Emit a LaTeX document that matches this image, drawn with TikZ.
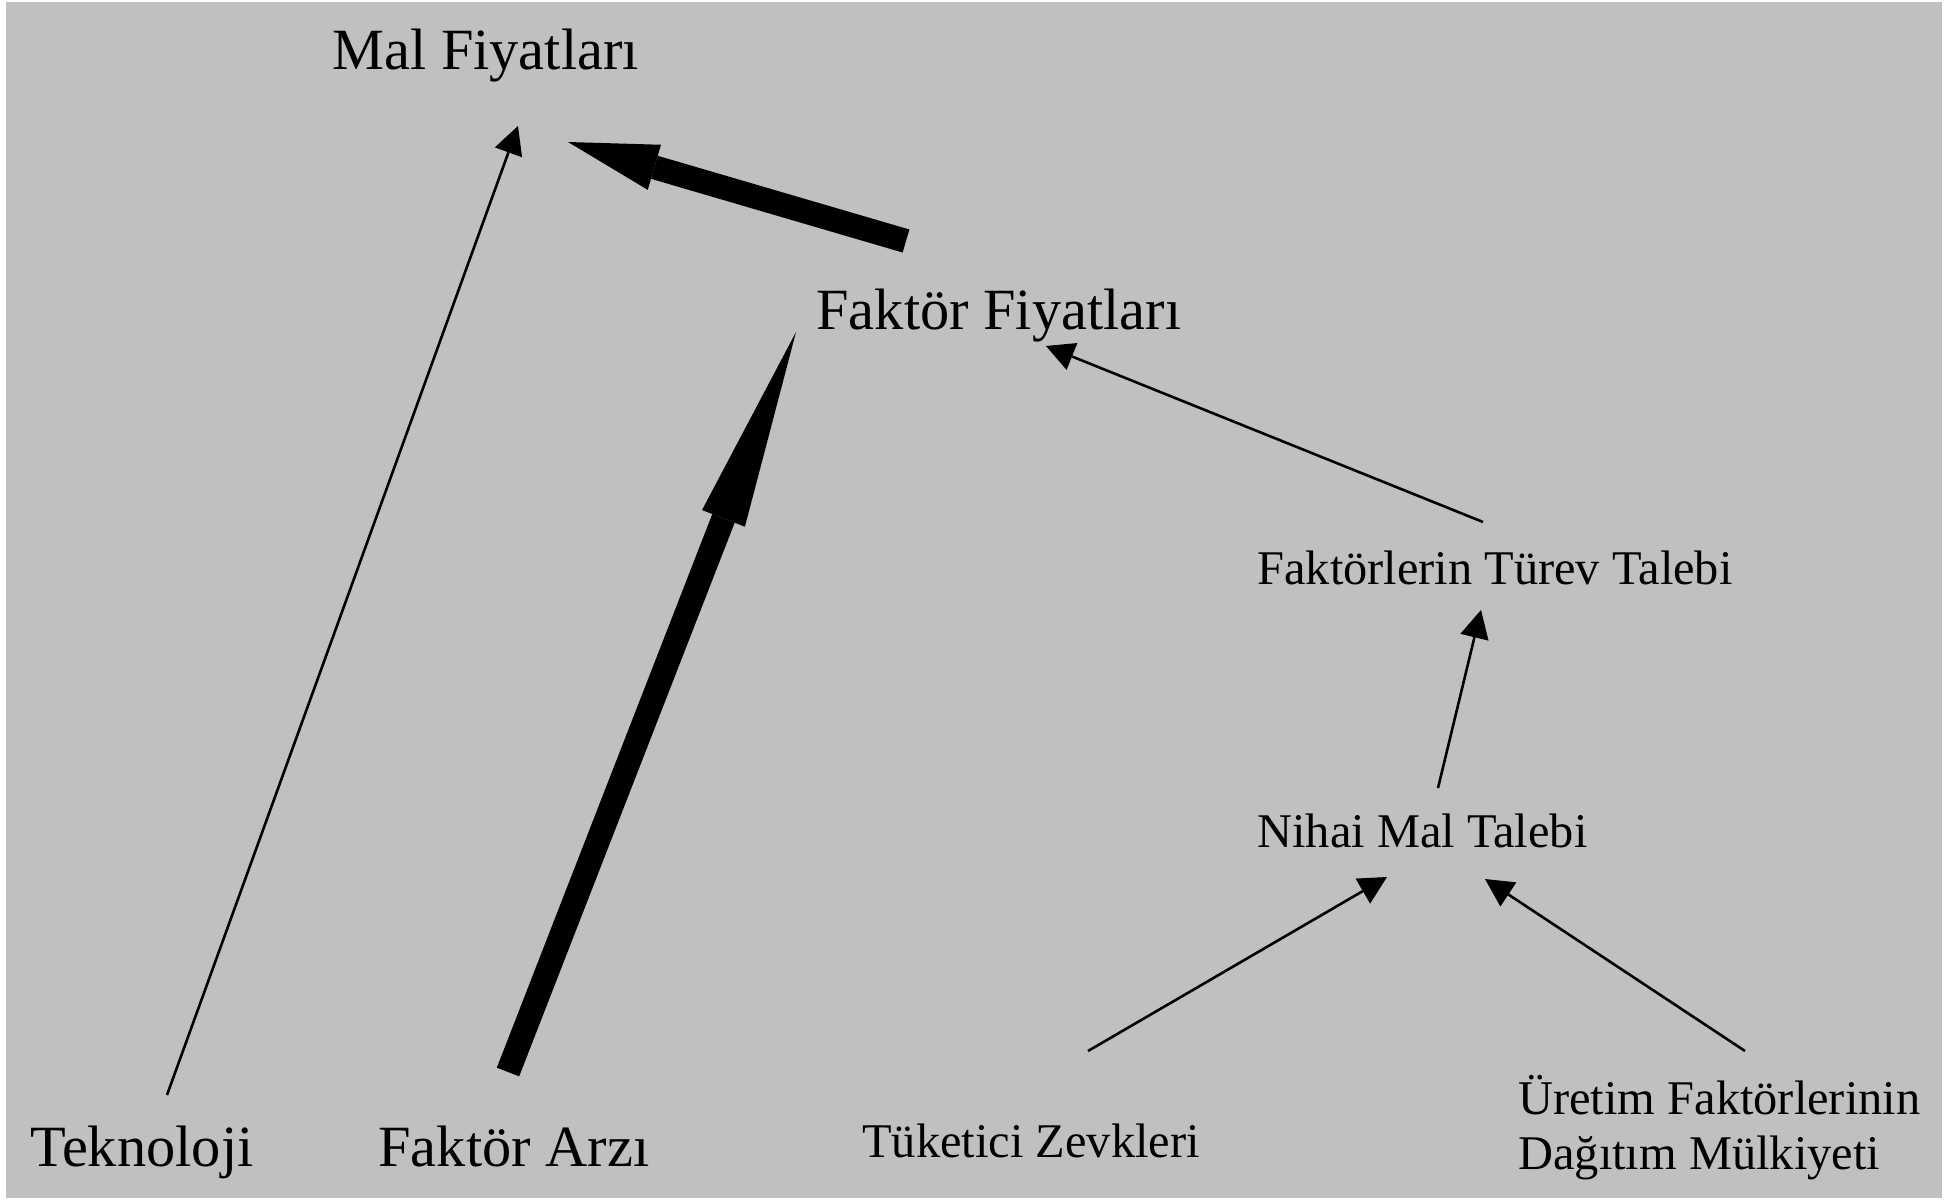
\documentclass[tikz,border=0pt]{standalone}
\usepackage{fontspec}
\setmainfont{Liberation Serif}
\usetikzlibrary{arrows.meta}
\definecolor{bggray}{HTML}{C0C0C0}
\begin{document}
\begin{tikzpicture}[x=0.5pt,y=-0.5pt,
  bigtxt/.style={anchor=base west,inner sep=0pt,font=\fontsize{29.2pt}{35pt}\selectfont},
  smalltxt/.style={anchor=base west,inner sep=0pt,font=\fontsize{24.2pt}{27.5pt}\selectfont},
  thinarrow/.style={line width=1.3pt,-{Triangle[length=14pt,width=14.5pt,line width=0pt]}},
  thickarrow/.style={line width=12pt,-{Triangle[length=45pt,width=23.5pt,line width=0pt]}},
  longarrow/.style={line width=12pt,-{Triangle[length=100pt,width=23pt,line width=0pt]}}]
\fill[white] (0,0) rectangle (1947,1200);
\fill[bggray] (6,2) rectangle (1942,1198);
\useasboundingbox (0,0) rectangle (1947,1200);

\node[bigtxt] (mal) at (332,69) {Mal Fiyatları};
\node[bigtxt] (fak) at (816,329) {Faktör Fiyatları};
\node[bigtxt] (tek) at (30,1166) {Teknoloji};
\node[bigtxt] (arz) at (378,1166) {Faktör Arzı};
\node[smalltxt] (tur) at (1257,584) {Faktörlerin Türev Talebi};
\node[smalltxt] (nih) at (1257,847) {Nihai Mal Talebi};
\node[smalltxt] (tuk) at (862,1157) {Tüketici Zevkleri};
\node[smalltxt] (ure) at (1518,1114) {Üretim Faktörlerinin};
\node[smalltxt] (dag) at (1518,1169) {Dağıtım Mülkiyeti};

\draw[thinarrow] ([shift={(137,-71)}]tek.base west) -- ([shift={(186,57)}]mal.base west);
\draw[thickarrow] ([shift={(90,-88)}]fak.base west) -- ([shift={(236,73)}]mal.base west);
\draw[longarrow] ([shift={(130,-94)}]arz.base west) -- ([shift={(-20,3)}]fak.base west);
\draw[thinarrow] ([shift={(226,-62)}]tur.base west) -- ([shift={(230,17)}]fak.base west);
\draw[thinarrow] ([shift={(181,-59)}]nih.base west) -- ([shift={(224,26)}]tur.base west);
\draw[thinarrow] ([shift={(226,-106)}]tuk.base west) -- ([shift={(130,30)}]nih.base west);
\draw[thinarrow] ([shift={(227,-63)}]ure.base west) -- ([shift={(228,32)}]nih.base west);
\end{tikzpicture}
\end{document}
